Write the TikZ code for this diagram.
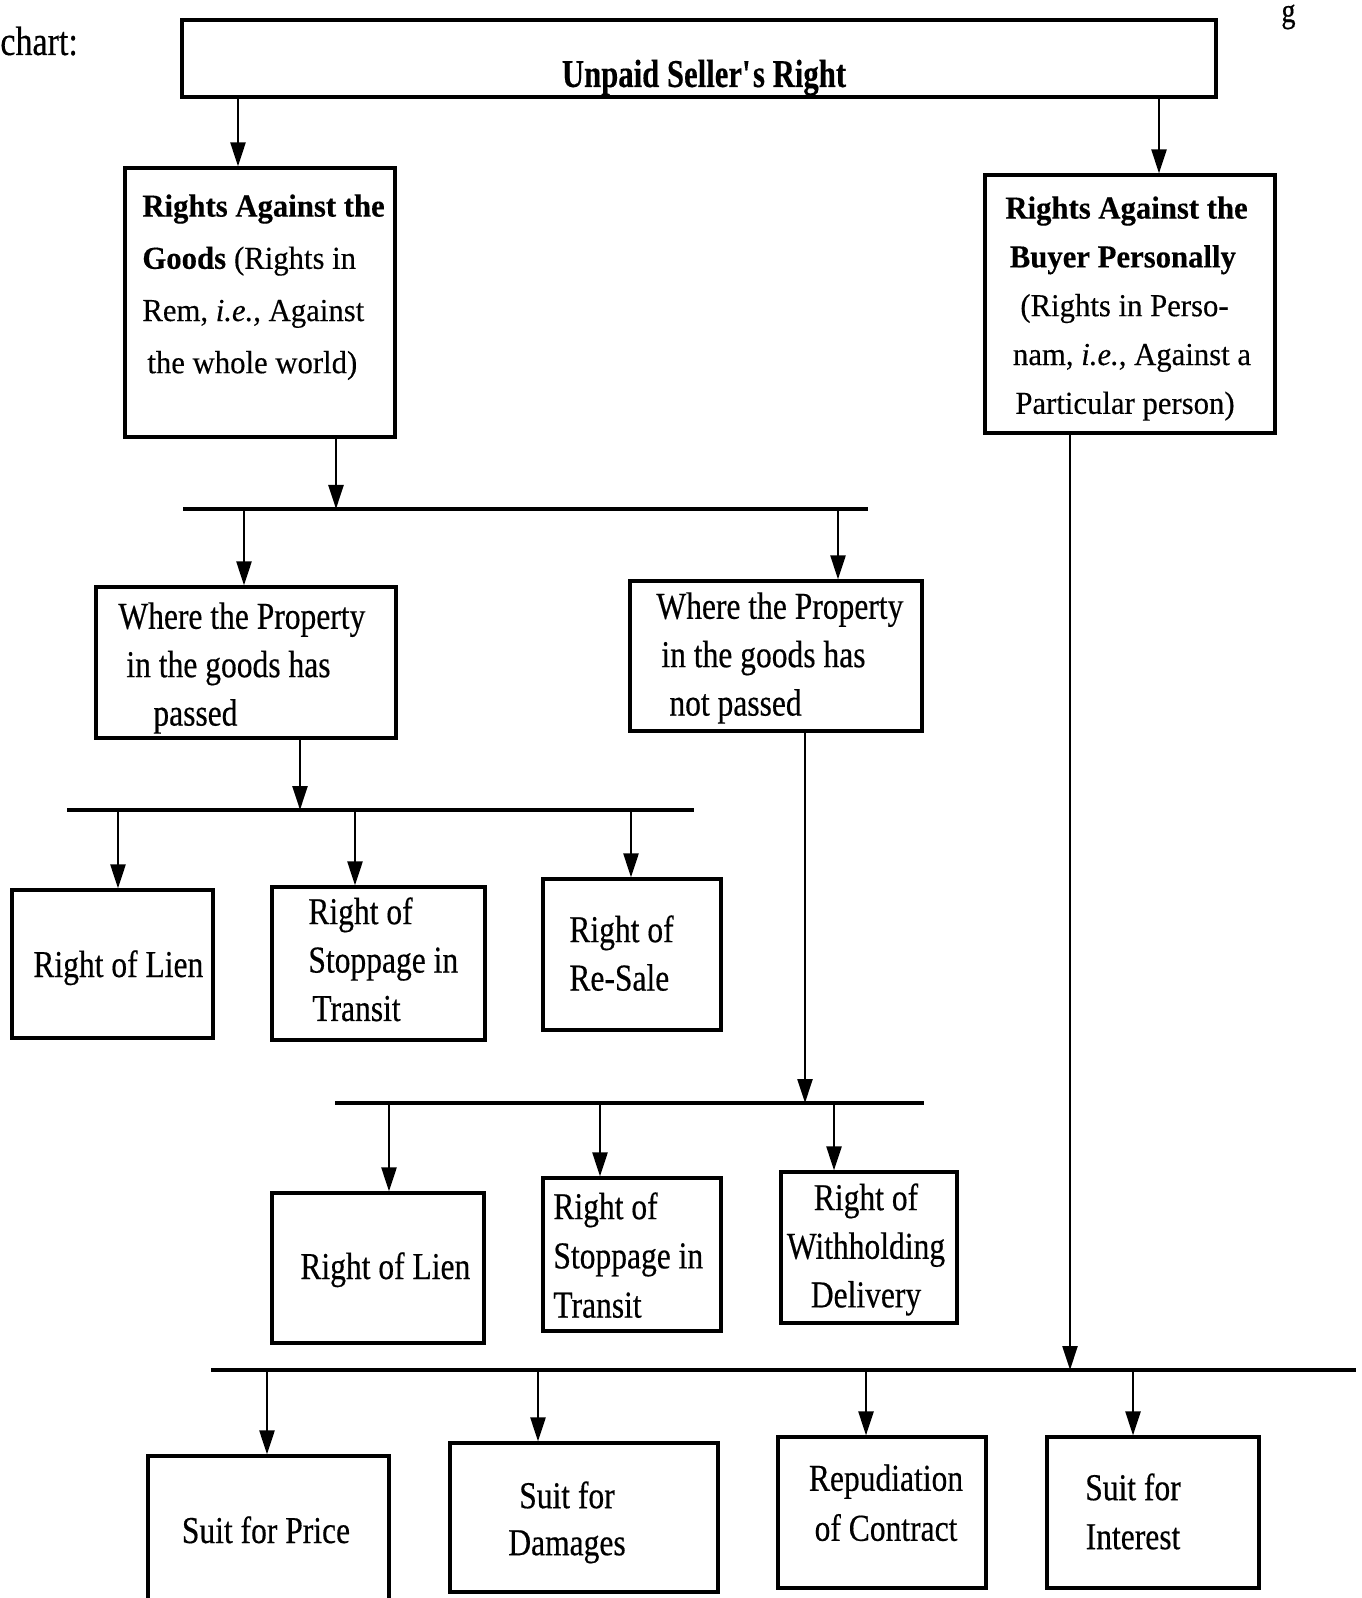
\documentclass[tikz,border=0pt]{standalone}
\usepackage{fontspec}
\setmainfont{Liberation Serif}
\newfontfamily\condfont{Liberation Serif}[FakeStretch=0.83,FakeBold=0.4]
\newfontfamily\headfont{Liberation Serif}[FakeStretch=0.96,FakeBold=0.3]
\newfontfamily\titlefont{Liberation Serif}[FakeStretch=0.78,FakeBold=0.3]
\usetikzlibrary{arrows.meta,fit}
\tikzset{
  box/.style={draw, line width=1.6pt, inner sep=0pt},
  lbl/.style={inner sep=0pt, font=\condfont\fontsize{19}{24.2}\selectfont},
  headtxt/.style={inner sep=0pt, align=left, anchor=north west},
  bar/.style={line width=1.6pt},
  arr/.style={line width=1.2pt, -{Triangle[length=12pt,width=7.5pt]}}
}
\begin{document}
\begin{tikzpicture}[x=0.5pt,y=-0.5pt]
\useasboundingbox (0,0) rectangle (1361,1598);
\clip (0,0) rectangle (1361,1598);
\fill[white] (0,0) rectangle (1361,1598);

% stray words of the surrounding page
\node[lbl, anchor=base west, font=\condfont\fontsize{20.5}{24}\selectfont] (chart) at (0,55) {chart:};
\node[lbl, anchor=base west, font=\condfont\fontsize{17}{20}\selectfont] (frag) at (1281,22) {g};

% ---------- boxes ----------
\node[box, fit={(182,20)(1216,97)}] (top) {};
\node[box, fit={(125,168)(395,437)}] (goods) {};
\node[box, fit={(985,175)(1275,433)}] (buyer) {};
\node[box, fit={(96,587)(396,738)}] (passed) {};
\node[box, fit={(630,581)(922,731)}] (notpassed) {};
\node[box, fit={(12,890)(213,1038)}] (lienA) {};
\node[box, fit={(272,887)(485,1040)}] (stopA) {};
\node[box, fit={(543,879)(721,1030)}] (resale) {};
\node[box, fit={(272,1193)(484,1343)}] (lienB) {};
\node[box, fit={(543,1178)(721,1331)}] (stopB) {};
\node[box, fit={(781,1172)(957,1323)}] (withhold) {};
\node[box, fit={(148,1456)(389,1620)}] (price) {};
\node[box, fit={(450,1443)(718,1592)}] (damages) {};
\node[box, fit={(778,1437)(986,1588)}] (repud) {};
\node[box, fit={(1047,1437)(1259,1588)}] (interest) {};

% ---------- texts ----------
\node[inner sep=0pt, anchor=base, font=\titlefont\bfseries\fontsize{19.7}{24}\selectfont]
  (top-t) at (704,87) {Unpaid Seller\textquotesingle s Right};

\node[headtxt, font=\headfont\fontsize{16}{26.1}\selectfont] (goods-t) at (142,194)
  {\textbf{Rights Against the}\\
   \textbf{Goods}\hspace{4pt}(Rights in\\
   Rem, \textit{i.e.}, Against\\
   \hspace*{2.5pt}the whole world)};

\node[headtxt, font=\headfont\fontsize{16}{24.4}\selectfont] (buyer-t) at (1005,196)
  {\textbf{Rights Against the}\\
   \hspace*{2.2pt}\textbf{Buyer Personally}\\
   \hspace*{7.5pt}(Rights in Perso-\\
   \hspace*{3.8pt}nam, \textit{i.e.}, Against a\\
   \hspace*{5pt}Particular person)};

\node[lbl, align=left, anchor=north west] (passed-t) at (118,602)
  {Where the Property\\\hspace*{4pt}in the goods has\\\hspace*{17.5pt}passed};
\node[lbl, align=left, anchor=north west] (notpassed-t) at (656,592)
  {Where the Property\\\hspace*{2.5pt}in the goods has\\\hspace*{6.5pt}not passed};

\node[lbl, anchor=base west] (lienA-t) at (33,977) {Right of Lien};
\node[lbl, align=left, anchor=north west] (stopA-t) at (308,897)
  {Right of\\Stoppage in\\\hspace*{2pt}Transit};
\node[lbl, align=left, anchor=north west] (resale-t) at (569,915)
  {Right of\\Re-Sale};

\node[lbl, anchor=base west] (lienB-t) at (300,1279) {Right of Lien};
\node[lbl, align=left, anchor=north west, font=\condfont\fontsize{19}{24.6}\selectfont]
  (stopB-t) at (553,1192) {Right of\\Stoppage in\\Transit};
\node[lbl, align=center, anchor=north, font=\condfont\fontsize{19}{24.3}\selectfont]
  (withhold-t) at (866,1183) {Right of\\Withholding\\Delivery};

\node[lbl, anchor=base] (price-t) at (266,1543) {Suit for Price};
\node[lbl, align=center, anchor=north, font=\condfont\fontsize{19}{23.5}\selectfont]
  (damages-t) at (567,1481) {Suit for\\Damages};
\node[lbl, align=center, anchor=north, font=\condfont\fontsize{19}{25}\selectfont]
  (repud-t) at (886,1464) {Repudiation\\of Contract};
\node[lbl, align=center, anchor=north, font=\condfont\fontsize{19}{24.5}\selectfont]
  (interest-t) at (1133,1473) {Suit for\\Interest};

% ---------- bar ends and junctions ----------
\coordinate (jg) at (238,0);
\coordinate (jb) at (1159,0);
\coordinate (b2L) at (183,509);  \coordinate (b2R) at (868,509);
\coordinate (j2in) at (336,509);
\coordinate (j2a) at (244,509);  \coordinate (j2b) at (838,509);
\coordinate (b3L) at (67,810);   \coordinate (b3R) at (694,810);
\coordinate (j3in) at (300,810);
\coordinate (j3a) at (118,810);  \coordinate (j3b) at (355,810);  \coordinate (j3c) at (631,810);
\coordinate (b4L) at (335,1103); \coordinate (b4R) at (924,1103);
\coordinate (j4in) at (805,1103);
\coordinate (j4a) at (389,1103); \coordinate (j4b) at (600,1103); \coordinate (j4c) at (834,1103);
\coordinate (b5L) at (211,1370); \coordinate (b5R) at (1356,1370);
\coordinate (j5in) at (1070,1370);
\coordinate (j5a) at (267,1370); \coordinate (j5b) at (538,1370);
\coordinate (j5c) at (866,1370); \coordinate (j5d) at (1133,1370);

% ---------- bars ----------
\draw[bar] (b2L) -- (b2R);
\draw[bar] (b3L) -- (b3R);
\draw[bar] (b4L) -- (b4R);
\draw[bar] (b5L) -- (b5R);

% ---------- connectors ----------
\draw[arr] (top.south -| jg) -- (jg |- goods.north);
\draw[arr] (top.south -| jb) -- (jb |- buyer.north);

\draw[arr] (goods.south -| j2in) -- (j2in);
\draw[arr] (j2a) -- (j2a |- passed.north);
\draw[arr] (j2b) -- (j2b |- notpassed.north);

\draw[arr] (passed.south -| j3in) -- (j3in);
\draw[arr] (j3a) -- (j3a |- lienA.north);
\draw[arr] (j3b) -- (j3b |- stopA.north);
\draw[arr] (j3c) -- (j3c |- resale.north);

\draw[arr] (notpassed.south -| j4in) -- (j4in);
\draw[arr] (j4a) -- (j4a |- lienB.north);
\draw[arr] (j4b) -- (j4b |- stopB.north);
\draw[arr] (j4c) -- (j4c |- withhold.north);

\draw[arr] (buyer.south -| j5in) -- (j5in);
\draw[arr] (j5a) -- (j5a |- price.north);
\draw[arr] (j5b) -- (j5b |- damages.north);
\draw[arr] (j5c) -- (j5c |- repud.north);
\draw[arr] (j5d) -- (j5d |- interest.north);
\end{tikzpicture}
\end{document}
